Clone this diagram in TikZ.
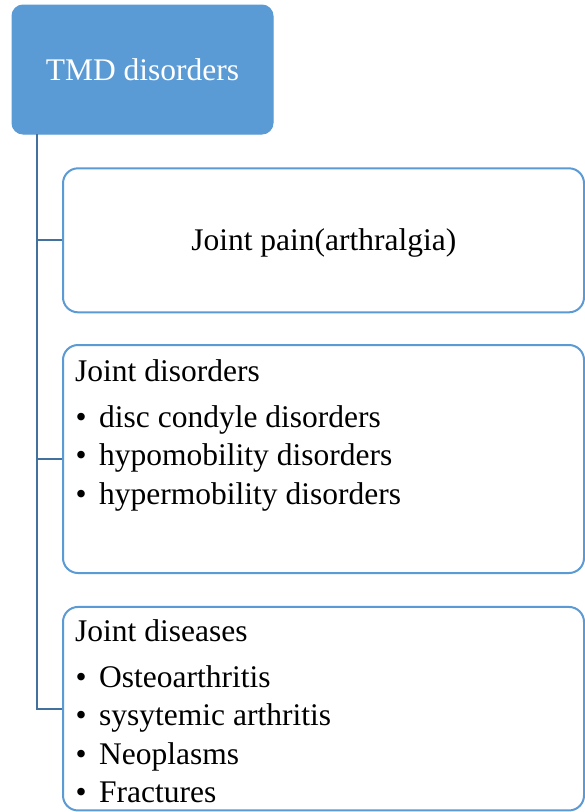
\documentclass[tikz,border=0pt]{standalone}
\usepackage{fontspec}
\setmainfont{Liberation Serif}
\definecolor{accent}{HTML}{5B9BD5}
\definecolor{linkc}{HTML}{41719C}
\begin{document}
\begin{tikzpicture}[x=1pt,y=-1pt,
  txt/.style={inner sep=0pt,font=\fontsize{31.5}{38.5}\selectfont,text=black},
  rootbox/.style={draw=accent,fill=accent,rounded corners=11pt,line width=1pt,
    minimum width=261pt,minimum height=129pt,inner sep=0pt,
    font=\fontsize{31.5}{38.5}\selectfont,text=white},
  childbox/.style={draw=accent,fill=white,rounded corners=15pt,line width=2pt,
    minimum width=521pt,inner sep=0pt},
  link/.style={draw=linkc,line width=2pt},
  item/.style={txt,anchor=base west},
  bul/.style={txt,anchor=base west}]
\useasboundingbox (0,0) rectangle (585,812);
\fill[white] (0,0) rectangle (585,812);
% root
\node[rootbox] (root) at (142.5,69.5) {TMD disorders};
% children boxes
\node[childbox,minimum height=144pt] (c1) at (323.5,240.3) {};
\node[childbox,minimum height=228pt] (c2) at (323.5,459) {};
\node[childbox,minimum height=203.5pt] (c3) at (323.5,708.7) {};
% connectors
\coordinate (spine) at (37,134);
\coordinate (b1) at (37,240);
\coordinate (b2) at (37,459);
\coordinate (b3) at (37,709);
\draw[link] (spine) -- (b3) -- (b3 -| c3.west);
\draw[link] (b1) -- (b1 -| c1.west);
\draw[link] (b2) -- (b2 -| c2.west);
% box 1 text
\node[txt,anchor=base] (t1) at (323.8,250) {Joint pain(arthralgia)};
% box 2 text
\node[item] (h2) at (75,381) {Joint disorders};
\node[bul] (b2a) at (75.5,427) {•};
\node[item] (i2a) at (99,427) {disc condyle disorders};
\node[bul] (b2b) at (75.5,465.5) {•};
\node[item] (i2b) at (99,465.5) {hypomobility disorders};
\node[bul] (b2c) at (75.5,504) {•};
\node[item] (i2c) at (99,504) {hypermobility disorders};
% box 3 text
\node[item] (h3) at (75,641.7) {Joint diseases};
\node[bul] (b3a) at (75.5,687) {•};
\node[item] (i3a) at (99,687) {Osteoarthritis};
\node[bul] (b3b) at (75.5,725.5) {•};
\node[item] (i3b) at (99,725.5) {sysytemic arthritis};
\node[bul] (b3c) at (75.5,764) {•};
\node[item] (i3c) at (99,764) {Neoplasms};
\node[bul] (b3d) at (75.5,802.5) {•};
\node[item] (i3d) at (99,802.5) {Fractures};
\end{tikzpicture}
\end{document}
